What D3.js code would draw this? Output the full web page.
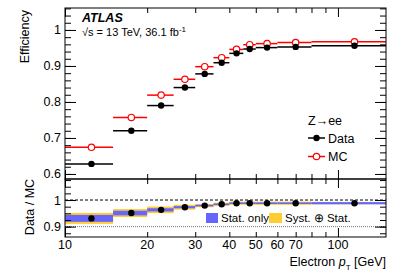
<!DOCTYPE html>
<html>
<head>
<meta charset="utf-8">
<script src="https://cdn.jsdelivr.net/npm/d3@7"></script>
<style>
  body { margin: 0; background: #fff; }
  svg text { font-family: "Liberation Sans", Arial, Helvetica, sans-serif; }
</style>
</head>
<body>
<div id="chart"></div>
<script>
// bin edges in electron pT [GeV]
const ptEdges = [10, 15, 20, 25, 30, 35, 40, 45, 50, 60, 80, 150];
const effData = [0.628, 0.720, 0.790, 0.840, 0.878, 0.909, 0.935, 0.947, 0.951, 0.953, 0.956];
const effMC   = [0.674, 0.757, 0.819, 0.863, 0.898, 0.923, 0.946, 0.959, 0.962, 0.965, 0.967];
const ratio   = [0.931, 0.951, 0.963, 0.973, 0.979, 0.984, 0.988, 0.988, 0.988, 0.988, 0.988];
const statErr = [0.013, 0.0087, 0.006, 0.004, 0.003, 0.003, 0.003, 0.003, 0.003, 0.003, 0.004];
const totErr  = [0.0206, 0.015, 0.0125, 0.009, 0.006, 0.006, 0.006, 0.006, 0.006, 0.006, 0.004];
const xTickLabels = [10, 20, 30, 40, 50, 60, 70, 100];

const W = 407, H = 276;
const padL = 65, padR = 386, padT = 8, padM = 179, padB = 237;

const bins = effData.map((d, i) => ({
  lo: ptEdges[i], hi: ptEdges[i + 1], c: (ptEdges[i] + ptEdges[i + 1]) / 2,
  data: d, mc: effMC[i], r: ratio[i], stat: statErr[i], tot: totErr[i]
}));

const svg = d3.select("#chart").append("svg")
  .attr("width", W).attr("height", H);

const x = d3.scaleLog().domain([10, 150]).range([padL, padR]);
const yTop = d3.scaleLinear().domain([0.586, 1.061]).range([padM, padT]);
const yRat = d3.scaleLinear().domain([0.861, 1.079]).range([padB, padM]);

// ---- ratio bands
const gR = svg.append("g");
gR.selectAll(".tot").data(bins).enter().append("rect")
  .attr("x", d => x(d.lo)).attr("width", d => x(d.hi) - x(d.lo))
  .attr("y", d => yRat(d.r + d.tot)).attr("height", d => yRat(d.r - d.tot) - yRat(d.r + d.tot))
  .attr("fill", "#ffcc33");
gR.selectAll(".stat").data(bins).enter().append("rect")
  .attr("x", d => x(d.lo)).attr("width", d => x(d.hi) - x(d.lo))
  .attr("y", d => yRat(d.r + d.stat)).attr("height", d => yRat(d.r - d.stat) - yRat(d.r + d.stat))
  .attr("fill", "#6666ff");

gR.append("line").attr("x1", padL).attr("x2", padR)
  .attr("y1", yRat(1)).attr("y2", yRat(1))
  .attr("stroke", "#000").attr("stroke-width", 1).attr("stroke-dasharray", "3,2");
gR.append("line").attr("x1", padL).attr("x2", padR)
  .attr("y1", yRat(0.9)).attr("y2", yRat(0.9))
  .attr("stroke", "#777").attr("stroke-width", 1).attr("stroke-dasharray", "1,1");

gR.selectAll(".rp").data(bins).enter().append("circle")
  .attr("cx", d => x(d.c)).attr("cy", d => yRat(d.r)).attr("r", 3.2)
  .attr("fill", "#000");

// ratio legend
const rl = svg.append("g").attr("font-size", 11.5);
rl.append("rect").attr("x", 206).attr("y", 213).attr("width", 12).attr("height", 10).attr("fill", "#6666ff");
rl.append("text").attr("x", 221).attr("y", 222).text("Stat. only");
rl.append("rect").attr("x", 269).attr("y", 213).attr("width", 13).attr("height", 10).attr("fill", "#ffcc33");
rl.append("text").attr("x", 285).attr("y", 222).text("Syst. \u2295 Stat.");

// ---- top panel
const gT = svg.append("g");
gT.selectAll(".mcl").data(bins).enter().append("line")
  .attr("x1", d => x(d.lo)).attr("x2", d => x(d.hi))
  .attr("y1", d => yTop(d.mc)).attr("y2", d => yTop(d.mc))
  .attr("stroke", "#ff0000").attr("stroke-width", 1.5);
gT.selectAll(".dl").data(bins).enter().append("line")
  .attr("x1", d => x(d.lo)).attr("x2", d => x(d.hi))
  .attr("y1", d => yTop(d.data)).attr("y2", d => yTop(d.data))
  .attr("stroke", "#000").attr("stroke-width", 1.5);
gT.selectAll(".mcp").data(bins).enter().append("circle")
  .attr("cx", d => x(d.c)).attr("cy", d => yTop(d.mc)).attr("r", 3.2)
  .attr("fill", "#fff").attr("stroke", "#ff0000").attr("stroke-width", 1.2);
gT.selectAll(".dp").data(bins).enter().append("circle")
  .attr("cx", d => x(d.c)).attr("cy", d => yTop(d.data)).attr("r", 3.2)
  .attr("fill", "#000");

// legend
const lg = svg.append("g").attr("font-size", 12.5);
lg.append("text").attr("x", 308).attr("y", 125).text("Z\u2192ee");
lg.append("line").attr("x1", 308).attr("x2", 325).attr("y1", 138).attr("y2", 138)
  .attr("stroke", "#000").attr("stroke-width", 1.5);
lg.append("circle").attr("cx", 316.5).attr("cy", 138).attr("r", 3.2).attr("fill", "#000");
lg.append("text").attr("x", 328).attr("y", 142.5).text("Data");
lg.append("line").attr("x1", 308).attr("x2", 325).attr("y1", 156.5).attr("y2", 156.5)
  .attr("stroke", "#ff0000").attr("stroke-width", 1.5);
lg.append("circle").attr("cx", 316.5).attr("cy", 156.5).attr("r", 3.2)
  .attr("fill", "#fff").attr("stroke", "#ff0000").attr("stroke-width", 1.2);
lg.append("text").attr("x", 328).attr("y", 161).text("MC");

// ATLAS label
svg.append("text").attr("x", 82).attr("y", 22).attr("font-size", 12.5)
  .attr("font-weight", "bold").attr("font-style", "italic").text("ATLAS");
svg.append("text").attr("x", 82).attr("y", 35.5).attr("font-size", 11)
  .html('\u221As = 13 TeV, 36.1 fb<tspan dy="-4" font-size="8">-1</tspan>');

// ---- axes
const fmt = d => d === 1 ? "1" : d3.format(".1f")(d);
const yTopMajor = [0.6, 0.7, 0.8, 0.9, 1.0];
const yTopMinor = d3.range(0.6, 1.061, 0.02);
const yRatMajor = [0.9, 1.0];
const yRatMinor = d3.range(0.875, 1.079, 0.025);
const xMajor = [10, 100];
const xMinor = [20, 30, 40, 50, 60, 70, 80, 90];

function yAxes(scale, major, minor) {
  const g = svg.append("g").attr("font-size", 12.5);
  g.append("g").attr("transform", `translate(${padL},0)`)
    .call(d3.axisLeft(scale).tickValues(major).tickSize(-11).tickPadding(4).tickFormat(fmt));
  g.append("g").attr("transform", `translate(${padL},0)`)
    .call(d3.axisLeft(scale).tickValues(minor).tickSize(-6).tickFormat(""));
  g.append("g").attr("transform", `translate(${padR},0)`)
    .call(d3.axisRight(scale).tickValues(major).tickSize(-11).tickFormat(""));
  g.append("g").attr("transform", `translate(${padR},0)`)
    .call(d3.axisRight(scale).tickValues(minor).tickSize(-6).tickFormat(""));
  g.selectAll(".domain").remove();
  g.selectAll("g").attr("font-family", null).attr("font-size", null);
  g.selectAll("text").attr("fill", "#000");
}
yAxes(yTop, yTopMajor, yTopMinor);
yAxes(yRat, yRatMajor, yRatMinor);

function xTicks(yPos, dir) {
  const ax = dir === "up" ? d3.axisBottom : d3.axisTop;
  const g = svg.append("g").attr("transform", `translate(0,${yPos})`);
  g.call(ax(x).tickValues(xMajor).tickSize(-9).tickFormat(""));
  const g2 = svg.append("g").attr("transform", `translate(0,${yPos})`);
  g2.call(ax(x).tickValues(xMinor).tickSize(-5).tickFormat(""));
  g.select(".domain").remove();
  g2.select(".domain").remove();
}
xTicks(padT, "down");
xTicks(padM, "up");
xTicks(padM, "down");
xTicks(padB, "up");

// x labels
svg.append("g").attr("font-size", 12.5).selectAll("text").data(xTickLabels).enter().append("text")
  .attr("x", d => x(d)).attr("y", 249).attr("text-anchor", "middle").text(d => d);

// frames
svg.append("rect").attr("x", padL).attr("y", padT).attr("width", padR - padL).attr("height", padM - padT)
  .attr("fill", "none").attr("stroke", "#000").attr("stroke-width", 1);
svg.append("rect").attr("x", padL).attr("y", padM).attr("width", padR - padL).attr("height", padB - padM)
  .attr("fill", "none").attr("stroke", "#000").attr("stroke-width", 1);

// titles
svg.append("text").attr("transform", "translate(29,10) rotate(-90)")
  .attr("text-anchor", "end").attr("font-size", 12.5).text("Efficiency");
svg.append("text").attr("transform", "translate(34,207) rotate(-90)")
  .attr("text-anchor", "middle").attr("font-size", 12.5).text("Data / MC");
svg.append("text").attr("x", 386).attr("y", 266).attr("text-anchor", "end").attr("font-size", 12.5)
  .html('Electron <tspan font-style="italic">p</tspan><tspan dy="4" font-size="8">T</tspan><tspan dy="-4"> [GeV]</tspan>');
</script>
</body>
</html>
